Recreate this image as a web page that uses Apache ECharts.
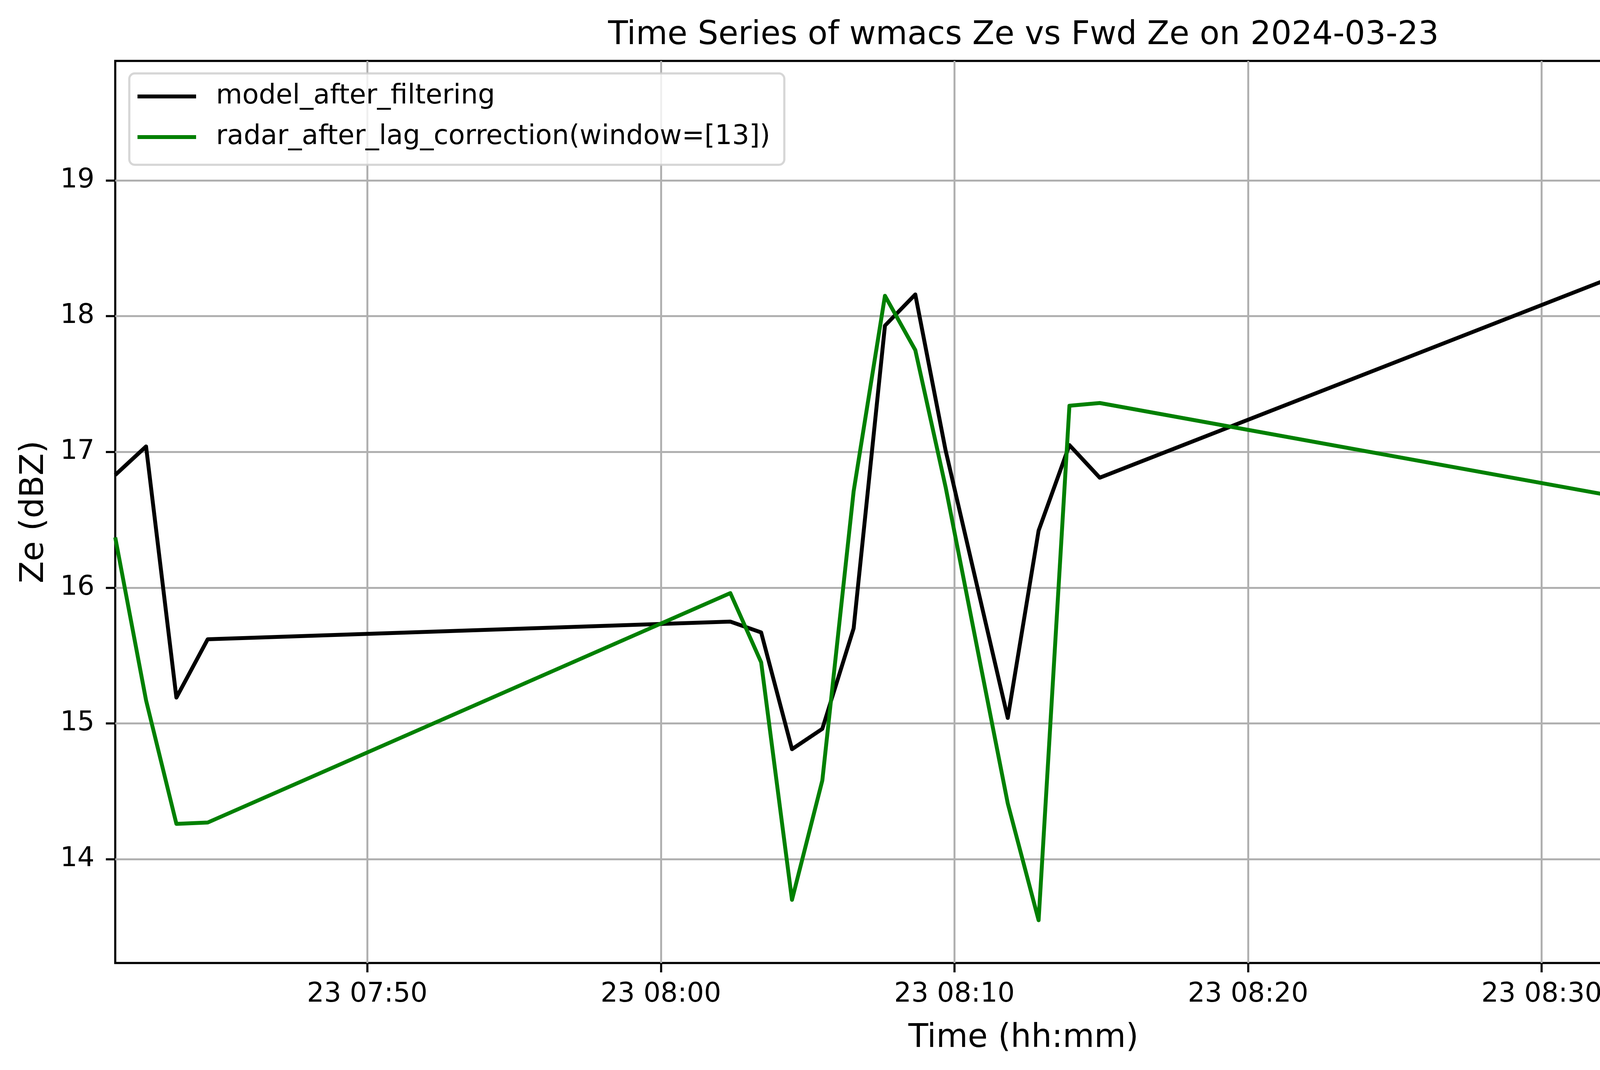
<!DOCTYPE html>
<html>
<head>
<meta charset="utf-8">
<script src="https://cdn.jsdelivr.net/npm/echarts@6/dist/echarts.min.js"></script>
<style>html,body{margin:0;padding:0;background:#fff;}#chart{width:4995px;height:2740px;}</style>
</head>
<body>
<div id="chart"></div>
<script>
// ---- data ----
const times = ['07:41:25','07:42:28','07:43:30','07:44:34','08:02:22','08:03:25','08:04:28','08:05:30','08:06:34','08:07:38','08:08:40','08:09:42','08:11:49','08:12:52','08:13:55','08:14:57','08:32:49','08:33:52','08:34:54','08:35:56','08:36:59','08:38:03','08:39:05','08:40:08','08:42:14','08:43:17'];
const modelAfterFiltering = [16.83,17.04,15.19,15.62,15.75,15.67,14.81,14.96,15.70,17.93,18.16,17.01,15.04,16.42,17.05,16.81,18.32,18.33,18.06,19.57,17.69,17.20,17.31,16.33,16.77,16.31];
const radarAfterLag = [16.37,15.17,14.26,14.27,15.96,15.45,13.70,14.58,16.71,18.15,17.75,16.74,14.41,13.55,17.34,17.36,16.66,15.68,16.50,17.88,16.81,15.47,14.91,15.01,14.83,14.57];
const xTickLabels = ['07:50','08:00','08:10','08:20','08:30','08:40'];
const yTickValues = [14,15,16,17,18,19];
const seriesNames = ['model_after_filtering','radar_after_lag_correction(window=[13])'];
const titleText = 'Time Series of wmacs Ze vs Fwd Ze on 2024-03-23';
const dayPrefix = '23';

function toMs(t){
  const p = t.split(':').map(Number);
  return Date.UTC(2024, 2, 23, p[0], p[1], p[2] || 0);
}
function pad(n){ return (n < 10 ? '0' : '') + n; }
const xs = times.map(toMs);
const xTicks = xTickLabels.map(toMs);

const FONT = 'DejaVu Sans';
const chart = echarts.init(document.getElementById('chart'), null, {renderer: 'canvas'});
const option = {
  backgroundColor: '#ffffff',
  animation: false,
  textStyle: {fontFamily: FONT},
  title: {
    text: titleText,
    left: 2620, top: 50, padding: 0,
    textAlign: 'center',
    textStyle: {fontFamily: FONT, fontSize: 83, fontWeight: 'normal', color: '#000', lineHeight: 83}
  },
  grid: {
    left: 295, right: 50, top: 156, bottom: 274,
    show: true, borderColor: '#000', borderWidth: 5.4, backgroundColor: 'transparent'
  },
  legend: {
    orient: 'vertical',
    left: 331, top: 188,
    padding: [24, 36, 36, 21],
    icon: 'rect',
    itemWidth: 150, itemHeight: 10, itemGap: 34,
    itemStyle: {borderWidth: 0},
    backgroundColor: 'rgba(255,255,255,0.8)',
    borderColor: 'rgba(204,204,204,0.8)', borderWidth: 5.5, borderRadius: 14,
    textStyle: {fontFamily: FONT, fontSize: 69, color: '#000', lineHeight: 70, padding: [0,0,0,46]},
    data: seriesNames
  },
  xAxis: {
    type: 'value',
    min: xs[0], max: xs[xs.length - 1],
    axisLine: {show: false},
    axisTick: {show: true, inside: false, length: 24, lineStyle: {color: '#000', width: 5.4}, customValues: xTicks},
    axisLabel: {
      show: true, margin: 47, fontFamily: FONT, fontSize: 69, color: '#000',
      customValues: xTicks,
      formatter: function(v){ const d = new Date(v); return dayPrefix + ' ' + pad(d.getUTCHours()) + ':' + pad(d.getUTCMinutes()); }
    },
    splitLine: {show: true, lineStyle: {color: '#b0b0b0', width: 5}},
    name: 'Time (hh:mm)', nameLocation: 'middle', nameGap: 152,
    nameTextStyle: {fontFamily: FONT, fontSize: 83, color: '#000'}
  },
  yAxis: {
    type: 'value',
    min: 13.235, max: 19.88,
    axisLine: {show: false},
    axisTick: {show: true, inside: false, length: 24, lineStyle: {color: '#000', width: 5.4}, customValues: yTickValues},
    axisLabel: {show: true, margin: 53, fontFamily: FONT, fontSize: 69, color: '#000', customValues: yTickValues},
    splitLine: {show: true, lineStyle: {color: '#b0b0b0', width: 5}},
    name: 'Ze (dBZ)', nameLocation: 'middle', nameGap: 165,
    nameTextStyle: {fontFamily: FONT, fontSize: 83, color: '#000'}
  },
  series: [
    {
      name: seriesNames[0], type: 'line', symbol: 'none', showSymbol: false,
      data: xs.map((x, i) => [x, modelAfterFiltering[i]]),
      lineStyle: {color: '#000000', width: 10, join: 'round', cap: 'butt'},
      itemStyle: {color: '#000000'},
      z: 3
    },
    {
      name: seriesNames[1], type: 'line', symbol: 'none', showSymbol: false,
      data: xs.map((x, i) => [x, radarAfterLag[i]]),
      lineStyle: {color: '#008000', width: 10, join: 'round', cap: 'butt'},
      itemStyle: {color: '#008000'},
      z: 4
    }
  ]
};
chart.setOption(option);
</script>
</body>
</html>
